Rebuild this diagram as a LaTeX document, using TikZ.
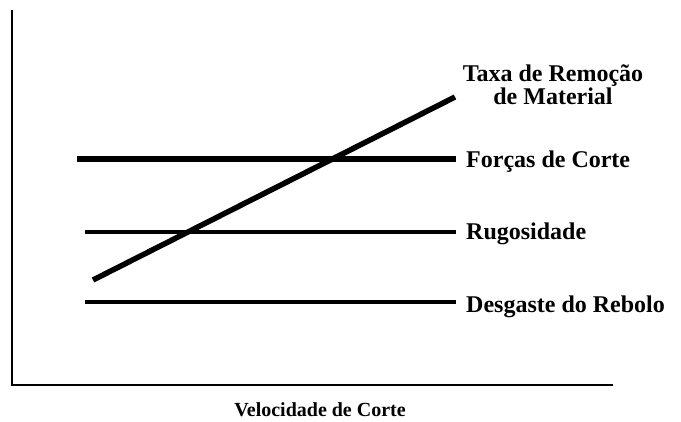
\documentclass[tikz,border=0pt]{standalone}
\usepackage{fontspec}
\setmainfont{Liberation Serif}
\usetikzlibrary{backgrounds}
\pgfdeclarelayer{edgelayer}
\pgfdeclarelayer{nodelayer}
\pgfsetlayers{edgelayer,nodelayer,main}
\tikzset{font=\bfseries\fontsize{24}{21}\selectfont}
\tikzstyle{none}=[inner sep=0pt]
\tikzstyle{lbl}=[inner sep=0pt,anchor=base west]
\tikzstyle{axis}=[line width=1.6pt]
\tikzstyle{thick}=[line width=5.5pt]
\tikzstyle{thin}=[line width=4.3pt]

\begin{document}
\begin{tikzpicture}[x=1pt,y=-1pt]
	\useasboundingbox (0,0) rectangle (681,421);
	\begin{pgfonlayer}{nodelayer}
		\node [style=none] (0) at (12, 10) {};
		\node [style=none] (1) at (12, 385) {};
		\node [style=none] (2) at (613, 385) {};
		\node [style=none] (3) at (77, 159) {};
		\node [style=none] (4) at (456, 159) {};
		\node [style=none] (5) at (85, 232) {};
		\node [style=none] (6) at (456, 232) {};
		\node [style=none] (7) at (85, 302) {};
		\node [style=none] (8) at (456, 302) {};
		\node [style=none] (9) at (93, 280) {};
		\node [style=none] (10) at (455, 97) {};
		\node [align=center, inner sep=0pt, anchor=base] (11) at (553, 104) {Taxa de Remoção\\de Material};
		\node [style=lbl] (12) at (466, 167) {Forças de Corte};
		\node [style=lbl] (13) at (466, 239) {Rugosidade};
		\node [style=lbl] (14) at (466, 312) {Desgaste do Rebolo};
		\node [inner sep=0pt, anchor=base, font=\bfseries\fontsize{20}{22}\selectfont] (15) at (320, 416) {Velocidade de Corte};
	\end{pgfonlayer}
	\begin{pgfonlayer}{edgelayer}
		\draw [style=axis] (0.center) to (1.center) to (2.center);
		\draw [style=thick] (3.center) to (4.center);
		\draw [style=thin] (5.center) to (6.center);
		\draw [style=thin] (7.center) to (8.center);
		\draw [style=thick] (9.center) to (10.center);
	\end{pgfonlayer}
\end{tikzpicture}
\end{document}
